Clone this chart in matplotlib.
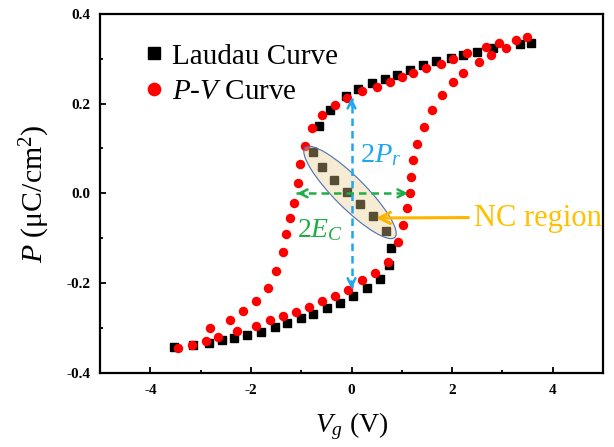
import matplotlib
matplotlib.use('Agg')
from matplotlib import pyplot as plt
from matplotlib import transforms
from matplotlib.patches import Ellipse

plt.rcParams['font.family'] = ['Liberation Serif', 'DejaVu Serif']
plt.rcParams['mathtext.fontset'] = 'custom'
plt.rcParams['mathtext.rm'] = 'Liberation Serif'
plt.rcParams['mathtext.it'] = 'Liberation Serif:italic'
plt.rcParams['axes.unicode_minus'] = False

landau_v = [3.56, 3.35, 2.82, 2.49, 2.22, 1.97, 1.69, 1.43, 1.16, 0.91, 0.66, 0.41, 0.13,
            -0.10, -0.42, -0.65, -0.76, -0.58, -0.35, -0.09, 0.17, 0.43, 0.68, 0.78, 0.74,
            0.56, 0.30, 0.03, -0.23, -0.48, -0.76, -1.00, -1.28, -1.52, -1.80, -2.07, -2.34,
            -2.57, -2.84, -3.15, -3.54]
landau_p = [0.336, 0.333, 0.324, 0.315, 0.309, 0.301, 0.294, 0.287, 0.275, 0.264, 0.255, 0.246,
            0.232, 0.217, 0.186, 0.149, 0.093, 0.058, 0.029, 0.002, -0.023, -0.051, -0.085,
            -0.122, -0.159, -0.191, -0.210, -0.229, -0.244, -0.256, -0.268, -0.277, -0.288,
            -0.297, -0.308, -0.316, -0.322, -0.327, -0.334, -0.338, -0.342]

# P-V loop (red circles): upper branch right -> left
pv_up_v = [3.48, 3.28, 2.93, 2.67, 2.29, 2.02, 1.77, 1.49, 1.23, 1.00, 0.76, 0.50, 0.20, -0.08,
           -0.33, -0.59, -0.79, -0.92, -1.02, -1.06, -1.15, -1.22, -1.30, -1.37, -1.50, -1.67,
           -1.89, -2.15, -2.42, -2.82]
pv_up_p = [0.348, 0.342, 0.334, 0.326, 0.312, 0.300, 0.289, 0.279, 0.269, 0.260, 0.249, 0.238,
           0.227, 0.212, 0.197, 0.175, 0.145, 0.105, 0.065, 0.022, -0.021, -0.056, -0.091,
           -0.130, -0.173, -0.211, -0.240, -0.262, -0.283, -0.301]
# lower branch left -> right
pv_dn_v = [-3.46, -3.18, -2.90, -2.66, -2.27, -1.89, -1.63, -1.37, -1.11, -0.85, -0.59, -0.33,
           -0.06, 0.20, 0.46, 0.73, 0.93, 1.03, 1.11, 1.16, 1.19, 1.23, 1.31, 1.45, 1.60, 1.79,
           2.02, 2.22, 2.54, 2.78, 3.07]
pv_dn_p = [-0.344, -0.337, -0.330, -0.320, -0.306, -0.295, -0.283, -0.274, -0.264, -0.253,
           -0.240, -0.229, -0.215, -0.194, -0.177, -0.153, -0.108, -0.071, -0.033, 0.001, 0.036,
           0.074, 0.110, 0.148, 0.185, 0.219, 0.249, 0.269, 0.293, 0.308, 0.325]

x_ticks = [-4, -2, 0, 2, 4]
y_ticks = [-0.4, -0.2, 0.0, 0.2, 0.4]
y_ticklabels = ['-0.4', '-0.2', '0.0', '0.2', '0.4']

fig = plt.figure(figsize=(6.14, 4.47), dpi=100)
ax = fig.add_axes([0.163, 0.166, 0.819, 0.803])

ax.plot(landau_v, landau_p, 's', color='black', markersize=5.6, zorder=2.5,
        label='Laudau Curve')
ax.plot(pv_up_v + pv_dn_v, pv_up_p + pv_dn_p, 'o', color='#ff0000', markersize=6.8,
        markeredgewidth=0, zorder=3, label='$P$-$V$ Curve')

# NC region ellipse, sized in inches around a data-space centre
etrans = fig.dpi_scale_trans + transforms.ScaledTranslation(-0.03, 0.002, ax.transData)
ell = Ellipse((0, 0), width=1.27, height=0.31, angle=-45, transform=etrans,
              facecolor='#e9cf8f', alpha=0.38, edgecolor='none', zorder=4)
ax.add_patch(ell)
ell2 = Ellipse((0, 0), width=1.27, height=0.31, angle=-45, transform=etrans,
               facecolor='none', edgecolor='#4a6fb5', linewidth=0.8, zorder=4)
ax.add_patch(ell2)

# 2Pr dashed arrow
blue = '#1ea7f0'
ax.plot([0, 0], [-0.212, 0.212], linestyle=(0, (3, 2)), color=blue, lw=1.8, zorder=5)
ax.annotate('', xy=(0, 0.219), xytext=(0, 0.19),
            arrowprops=dict(arrowstyle='->', color=blue, lw=1.8, mutation_scale=14), zorder=5)
ax.annotate('', xy=(0, -0.219), xytext=(0, -0.19),
            arrowprops=dict(arrowstyle='->', color=blue, lw=1.8, mutation_scale=14), zorder=5)
ax.text(0.17, 0.085, '2$P_r$', color=blue, fontsize=20.5, va='center', ha='left', zorder=6)

# 2Ec dashed arrow
green = '#1fae45'
ax.plot([-1.10, 1.14], [0, 0], linestyle=(0, (3, 2)), color=green, lw=1.8, zorder=5)
ax.annotate('', xy=(-1.14, 0), xytext=(-0.9, 0),
            arrowprops=dict(arrowstyle='->', color=green, lw=1.8, mutation_scale=14), zorder=5)
ax.annotate('', xy=(1.18, 0), xytext=(0.95, 0),
            arrowprops=dict(arrowstyle='->', color=green, lw=1.8, mutation_scale=14), zorder=5)
ax.text(-1.08, -0.082, '2$E_C$', color=green, fontsize=20, va='center', ha='left', zorder=6)

# NC region pointer
orange = '#ffb400'
ax.annotate('', xy=(0.43, -0.055), xytext=(2.38, -0.054),
            arrowprops=dict(arrowstyle='->', color=orange, lw=2.2, mutation_scale=20), zorder=6)
ax.text(2.43, -0.055, 'NC region', color='#ffc000', fontsize=22, va='center', ha='left',
        zorder=6, clip_on=False)

ax.set_xlim(-5, 5)
ax.set_ylim(-0.4, 0.4)
ax.set_xticks(x_ticks)
ax.set_xticks([-3, -1, 1, 3], minor=True)
ax.set_yticks(y_ticks)
ax.set_yticklabels(y_ticklabels)
ax.set_yticks([-0.3, -0.1, 0.1, 0.3], minor=True)
ax.tick_params(which='both', direction='in', top=False, right=False, width=1.3)
ax.tick_params(which='major', length=4.5)
ax.tick_params(which='minor', length=2.5)
ax.tick_params(axis='x', pad=8)
ax.tick_params(axis='y', pad=7)
for lbl in ax.get_xticklabels() + ax.get_yticklabels():
    lbl.set_fontweight('bold')
    lbl.set_fontsize(11)
for s in ax.spines.values():
    s.set_linewidth(1.6)

ax.set_xlabel('$V_g$ (V)', fontsize=20, labelpad=10)
ax.set_ylabel('$P$ (μC/cm$^2$)', fontsize=21.5, labelpad=10)

leg = ax.legend(loc='upper left', bbox_to_anchor=(0.05, 0.975), frameon=False, fontsize=21,
                markerscale=1.45, handlelength=0.6, handletextpad=0.3, labelspacing=0.3,
                borderaxespad=0.3, borderpad=0.4)

fig.savefig('out.png', dpi=100, facecolor='white')
